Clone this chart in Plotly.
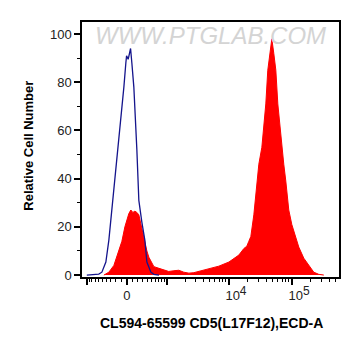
import numpy as np
import plotly.graph_objects as go

# ---- data (fluorescence intensity, relative cell number) ----
red_x = [-456, -342, -239, -162, -89, -35, 0, 35, 71, 107, 144, 181, 219, 258, 321, 387, 433, 506, 560,
         708, 872, 1067, 1305, 1580, 1905, 2310, 2775, 3340, 4830, 6960, 10040, 14450, 17360, 19360, 20800,
         22400, 25000, 27900, 30000, 33500, 36000, 38700, 41600, 44800, 48200, 51800, 55800, 60000, 64500,
         69400, 74600, 80300, 89500, 100000, 107500, 120000, 129000, 155000, 186000, 223000, 268000, 322000]
red_y = [0, 1.2, 4, 9, 14, 20, 23, 25.5, 27, 26, 26.5, 26, 25, 21, 15.7, 10, 7.4, 5, 3.5,
         2.8, 2.2, 1.5, 1.8, 2, 1.2, 0.8, 1, 1.5, 2.5, 3.7, 5.4, 8.3, 11, 12, 14,
         16, 25, 39, 46, 53, 62, 71, 85, 92, 98, 92, 85, 71, 62,
         53, 46, 39, 27, 21, 18.6, 14, 11.6, 7, 4, 1.2, 0.3, 0]

blue_x = [-990, -736, -589, -506, -456, -409, -342, -258, -162, -107, -53, -18, -5, 23, 66, 89, 125,
          181, 219, 279, 342, 387, 433, 482, 560, 708]
blue_y = [0, 0.2, 0.4, 1.2, 3, 5.4, 14.5, 31, 52, 65, 78, 88, 91, 89.5, 94, 88, 78,
          52, 31, 22, 14.5, 5.4, 2.8, 1.2, 0.3, 0]

major_ticks = [-1000, 0, 1000, 10000, 100000]
sup = "<sup><span style='font-size:12px'>{}</span></sup>"
major_labels = ["", "0", "",
                "\u00a0\u00a0\u00a0\u00a010" + sup.format("4"),
                "\u00a0\u00a0\u00a0\u00a010" + sup.format("5")]
minor_ticks = ([-v for v in range(100, 1000, 100)] + list(range(100, 1000, 100))
               + list(range(2000, 10000, 1000)) + list(range(20000, 100000, 10000))
               + list(range(200000, 600000, 100000)))

W = 485.0  # biexponential linear width


def biex(v):
    return np.arcsinh(np.asarray(v, dtype=float) / W)


fig = go.Figure()
fig.add_trace(go.Scatter(x=biex(red_x), y=red_y, mode="lines", fill="tozeroy",
                         line=dict(color="#ff0000", width=1), fillcolor="#ff0000",
                         hoverinfo="skip", showlegend=False))
fig.add_trace(go.Scatter(x=biex(blue_x), y=blue_y, mode="lines",
                         line=dict(color="#14148c", width=1.3),
                         hoverinfo="skip", showlegend=False))

fig.update_layout(
    width=345, height=340,
    margin=dict(l=74, r=13, t=12, b=71),
    paper_bgcolor="white", plot_bgcolor="white",
    font=dict(family="Liberation Sans, Arial, sans-serif", color="#222222"),
    xaxis=dict(range=[float(biex(-1200)), float(biex(560000))],
               tickmode="array", tickvals=biex(major_ticks).tolist(), ticktext=major_labels,
               ticks="outside", ticklen=6, tickwidth=1.5, tickcolor="black",
               minor=dict(tickmode="array", tickvals=biex(minor_ticks).tolist(),
                          ticks="outside", ticklen=3, tickwidth=1, tickcolor="black"),
               showline=True, linecolor="black", linewidth=1.5, mirror=True,
               showgrid=False, zeroline=False,
               tickfont=dict(size=13, color="#222222")),
    yaxis=dict(range=[-0.8, 105],
               tickmode="array", tickvals=[0, 20, 40, 60, 80, 100],
               ticks="outside", ticklen=6, tickwidth=1.5, tickcolor="black",
               minor=dict(tickmode="array", tickvals=[10, 30, 50, 70, 90],
                          ticks="outside", ticklen=3, tickwidth=1, tickcolor="black"),
               showline=True, linecolor="black", linewidth=1.5, mirror=True,
               showgrid=False, zeroline=False,
               tickfont=dict(size=13, color="#222222")),
    annotations=[
        dict(text="WWW.PTGLAB.COM", xref="paper", yref="paper", x=0.5, y=0.949,
             showarrow=False, xanchor="center", yanchor="middle",
             font=dict(size=24, color="#d4d4d4", family="Liberation Sans, Arial, sans-serif", style="italic")),
        dict(text="<b>CL594-65599 CD5(L17F12),ECD-A</b>", xref="paper", yref="paper",
             x=0.504, y=-0.179, showarrow=False, xanchor="center", yanchor="middle",
             font=dict(size=14, color="black")),
        dict(text="<b>Relative Cell Number</b>", xref="paper", yref="paper",
             x=-0.209, y=0.516, showarrow=False, xanchor="center", yanchor="middle",
             textangle=-90, font=dict(size=13, color="black")),
    ],
)

fig.write_html("out.html")
